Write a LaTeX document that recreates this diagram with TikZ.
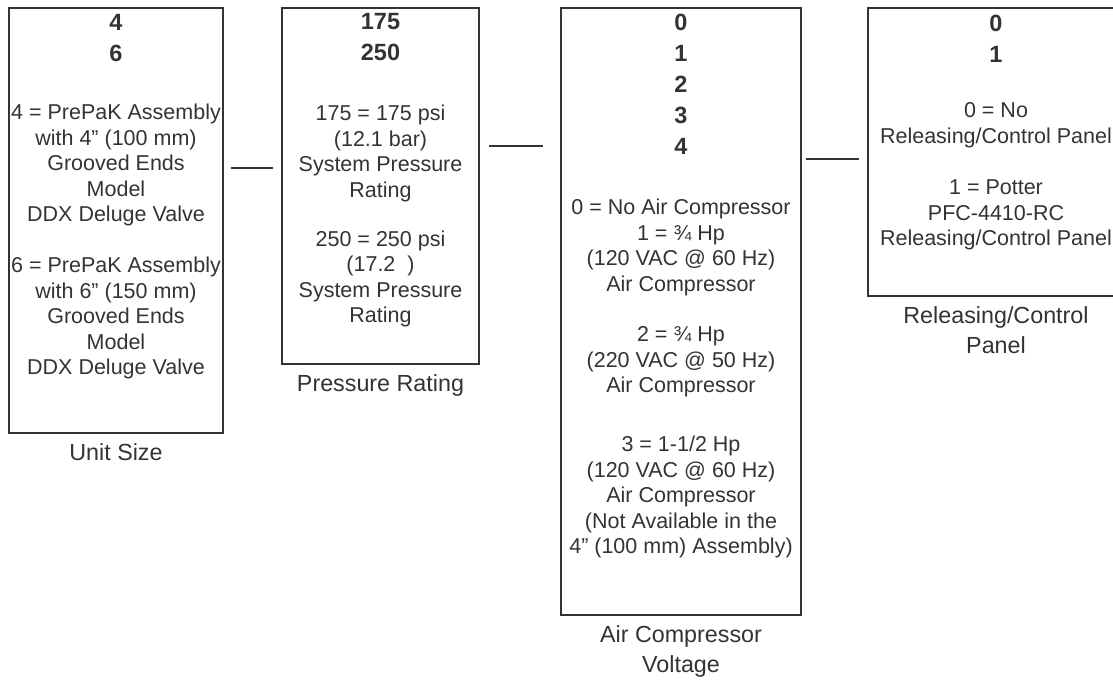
\documentclass[tikz,border=0pt]{standalone}
\usepackage{fontspec}
\setmainfont{Liberation Sans}
\usetikzlibrary{positioning}
\definecolor{figK}{RGB}{51,51,51}
\tikzset{
  optbox/.style={draw=figK, line width=1.2pt, inner sep=0pt},
  optnum/.style={font=\fontsize{23.5}{31}\selectfont\bfseries, text=figK, align=center},
  opttxt/.style={font=\fontsize{21.5}{25.5}\selectfont, text=figK, align=center},
  optcap/.style={font=\fontsize{23.3}{30}\selectfont, text=figK, align=center, inner sep=0pt},
  optline/.style={draw=figK, line width=1.2pt}
}

\begin{document}
\begin{tikzpicture}[x=1pt, y=-1pt]
\useasboundingbox (0,0) rectangle (1113,684);
\clip (0,0) rectangle (1113,684);
% unit size
\node[optbox, minimum width=214pt, minimum height=425pt] (unit) at (116,220.5) {};
\node[optnum] (unitnum) at (116,38.5) {4\\6};
\node[opttxt] (unitfour) at (116,165) {4 = PrePaK Assembly\\with 4” (100 mm)\\Grooved Ends\\Model\\DDX Deluge Valve};
\node[opttxt] (unitsix) at (116,318) {6 = PrePaK Assembly\\with 6” (150 mm)\\Grooved Ends\\Model\\DDX Deluge Valve};
\node[optcap, below=10pt of unit] (unitcap) {Unit Size};
% pressure rating
\node[optbox, minimum width=197pt, minimum height=356pt] (press) at (380.5,186) {};
\node[optnum] (pressnum) at (380.5,37.5) {175\\250};
\node[opttxt] (presslow) at (380.5,153.5) {175 = 175 psi\\(12.1 bar)\\System Pressure\\Rating};
\node[opttxt] (presshigh) at (380.5,279) {250 = 250 psi\\(17.2~~)\\System Pressure\\Rating};
\node[optcap, below=10pt of press] (presscap) {Pressure Rating};
% air compressor
\node[optbox, minimum width=240pt, minimum height=607pt] (comp) at (681,311.5) {};
\node[optnum] (compnum) at (681,84.5) {0\\1\\2\\3\\4};
\node[opttxt] (compone) at (681,247.5) {0 = No Air Compressor\\1 = ¾ Hp\\(120 VAC @ 60 Hz)\\Air Compressor};
\node[opttxt] (comptwo) at (681,362) {2 = ¾ Hp\\(220 VAC @ 50 Hz)\\Air Compressor};
\node[opttxt] (compthree) at (681,497) {3 = 1-1/2 Hp\\(120 VAC @ 60 Hz)\\Air Compressor\\(Not Available in the\\4” (100 mm) Assembly)};
\node[optcap, below=10pt of comp] (compcap) {Air Compressor\\Voltage};
% releasing panel
\node[optbox, minimum width=256pt, minimum height=288pt] (panel) at (996,152) {};
\node[optnum] (panelnum) at (996,38.5) {0\\1};
\node[opttxt] (panelno) at (996,125) {0 = No\\Releasing/Control Panel};
\node[opttxt] (panelyes) at (996,215) {1 = Potter\\PFC-4410-RC\\Releasing/Control Panel};
\node[optcap, below=10pt of panel] (panelcap) {Releasing/Control\\Panel};
% links
\draw[optline] (unit.east |- 0,168) ++(7,0) -- ++(42,0);
\draw[optline] (press.east |- 0,146) ++(9,0) -- ++(54,0);
\draw[optline] (comp.east |- 0,159) ++(4,0) -- ++(53,0);
\end{tikzpicture}
\end{document}
